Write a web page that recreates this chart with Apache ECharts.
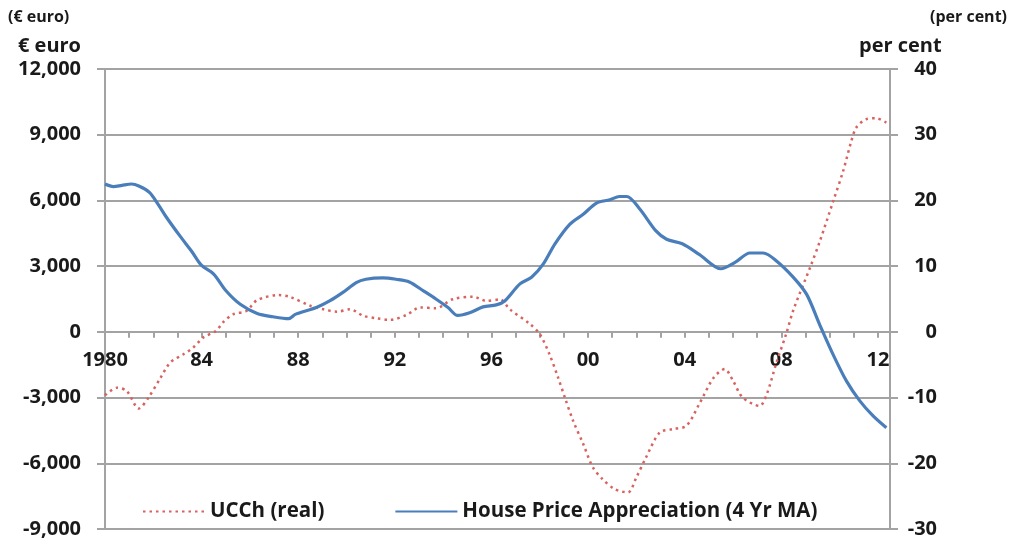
<!DOCTYPE html>
<html>
<head>
<meta charset="utf-8">
<script src="https://cdn.jsdelivr.net/npm/echarts@6/dist/echarts.min.js"></script>
<style>html,body{margin:0;padding:0;background:#fff}#c{width:1012px;height:541px}</style>
</head>
<body>
<div id="c"></div>
<script>
// ---- data ----
const hpaYears = [1980.0,1980.35,1980.7,1981.1,1981.4,1981.85,1982.2,1982.55,1983.1,1983.6,1984.0,1984.5,1985.0,1985.6,1986.3,1986.95,1987.6,1987.9,1988.75,1989.3,1989.85,1990.4,1990.8,1991.5,1992.05,1992.6,1993.2,1993.7,1994.2,1994.6,1995.1,1995.65,1996.2,1996.55,1997.18,1997.66,1998.14,1998.63,1999.25,1999.8,2000.35,2000.9,2001.3,2001.6,2002.14,2002.8,2003.25,2003.9,2004.6,2005.5,2006.1,2006.7,2007.25,2007.8,2008.5,2009.05,2009.6,2010.15,2010.7,2011.25,2011.8,2012.35];
const hpaValues = [22.5,22.1,22.3,22.5,22.2,21.2,19.4,17.4,14.6,12.2,10.1,8.8,6.3,4.2,2.8,2.3,2.0,2.7,3.7,4.7,6.0,7.5,8.0,8.2,8.0,7.6,6.2,5.0,3.7,2.5,2.9,3.8,4.1,4.7,7.3,8.3,10.3,13.4,16.4,17.9,19.6,20.1,20.6,20.6,18.7,15.4,14.1,13.4,11.8,9.6,10.6,12.0,12.0,10.8,8.3,5.7,1.0,-3.5,-7.5,-10.5,-12.8,-14.6];

const ucchYears = [1980.0,1980.5,1980.9,1981.4,1981.8,1982.3,1982.7,1983.25,1983.65,1984.07,1984.6,1984.9,1985.3,1985.85,1986.3,1987.2,1987.65,1988.5,1989.05,1989.6,1990.15,1990.7,1991.25,1991.8,1992.5,1993.04,1993.7,1994.4,1995.25,1995.8,1996.35,1996.76,1997.6,1998.0,1998.4,1998.76,1999.04,1999.38,1999.8,2000.2,2000.6,2001.1,2001.65,2002.0,2002.4,2002.97,2003.5,2004.07,2004.6,2005.2,2005.66,2006.0,2006.4,2007.1,2007.4,2007.8,2008.2,2008.5,2009.2,2009.6,2010.15,2010.56,2010.9,2011.1,2011.5,2011.94,2012.35];
const ucchValues = [-2900,-2550,-2700,-3500,-3000,-2100,-1400,-1020,-720,-260,50,450,800,950,1450,1680,1600,1190,1030,920,1030,730,620,550,780,1110,1080,1490,1600,1410,1480,1030,350,-100,-1020,-2090,-3000,-4060,-5120,-6190,-6720,-7180,-7330,-6640,-5730,-4590,-4440,-4290,-3300,-2090,-1700,-2230,-3000,-3380,-2840,-1400,-100,1000,2960,4150,5970,7340,8710,9320,9700,9750,9550];

const seriesNames = ['UCCh (real)', 'House Price Appreciation (4 Yr MA)'];
const leftTicks = {min: -9000, max: 12000, interval: 3000};
const rightTicks = {min: -30, max: 40, interval: 10};
const xRange = {min: 1980, max: 2012.5, labelEvery: 4};

// ---- chart ----
const FONT = '"Open Sans"';
const GRAY = '#a3a3a3';
const TXT = '#1a1a1a';
const RED = '#d8625e';
const BLUE = '#4a7ebb';
const GRID = {left: 105, right: 122, top: 69, bottom: 12};
const H = 541;
const plotH = H - GRID.top - GRID.bottom;
// move the x axis up from the grid bottom to the left axis' zero line
const zeroOffset = -plotH * (0 - leftTicks.min) / (leftTicks.max - leftTicks.min);

const chart = echarts.init(document.getElementById('c'), null, {renderer: 'canvas'});
const pair = (xs, ys) => xs.map((x, i) => [x, ys[i]]);
const lblFont = {fontFamily: FONT, fontWeight: 'bold', fontSize: 20, color: TXT};

chart.setOption({
  animation: false,
  backgroundColor: '#fff',
  grid: Object.assign({containLabel: false, outerBoundsMode: 'none'}, GRID),
  legend: {
    left: 137, top: 496,
    itemWidth: 62, itemHeight: 14, itemGap: 70,
    itemStyle: {opacity: 0},
    textStyle: {fontFamily: FONT, fontWeight: 'bold', fontSize: 20.5, color: TXT},
    data: seriesNames
  },
  graphic: [
    {type: 'text', left: 8, top: 9, style: {text: '(€ euro)', font: 'bold 16px ' + FONT, fill: TXT}},
    {type: 'text', right: 5, top: 9, style: {text: '(per cent)', font: 'bold 16px ' + FONT, fill: TXT}},
    {type: 'text', right: 1012 - 81, top: 36, style: {text: '€ euro', font: 'bold 20px ' + FONT, fill: TXT, align: 'right'}},
    {type: 'text', left: 859, top: 36, style: {text: 'per cent', font: 'bold 20px ' + FONT, fill: TXT}}
  ],
  xAxis: {
    type: 'value', position: 'bottom', offset: zeroOffset,
    min: xRange.min, max: xRange.max, interval: 1,
    axisLine: {onZero: false, lineStyle: {color: GRAY, width: 2}},
    axisTick: {show: true, inside: false, length: 6, lineStyle: {color: GRAY, width: 2}},
    splitLine: {show: false},
    axisLabel: Object.assign({
      margin: 18,
      showMaxLabel: false,
      formatter: v => {
        if (Math.abs(v - Math.round(v)) > 1e-6) return '';
        v = Math.round(v);
        if ((v - xRange.min) % xRange.labelEvery !== 0) return '';
        if (v === xRange.min) return String(v);
        return String(v % 100).padStart(2, '0');
      }
    }, lblFont)
  },
  yAxis: [
    {
      type: 'value', position: 'left',
      min: leftTicks.min, max: leftTicks.max, interval: leftTicks.interval,
      axisLine: {show: true, lineStyle: {color: GRAY, width: 2}},
      axisTick: {show: true, inside: false, length: 8, lineStyle: {color: GRAY, width: 2}},
      splitLine: {show: true, lineStyle: {color: GRAY, width: 2}},
      axisLabel: Object.assign({
        margin: 24,
        formatter: v => v.toLocaleString('en-US')
      }, lblFont)
    },
    {
      type: 'value', position: 'right',
      min: rightTicks.min, max: rightTicks.max, interval: rightTicks.interval,
      axisLine: {show: true, lineStyle: {color: GRAY, width: 2}},
      axisTick: {show: true, inside: false, length: 8, lineStyle: {color: GRAY, width: 2}},
      splitLine: {show: false},
      axisLabel: Object.assign({margin: 47, align: 'right'}, lblFont)
    }
  ],
  series: [
    {
      name: seriesNames[0], type: 'line', yAxisIndex: 0,
      data: pair(ucchYears, ucchValues),
      smooth: 0.3, symbol: 'none',
      lineStyle: {color: RED, width: 2.5, type: [2.5, 4]},
      itemStyle: {color: RED}
    },
    {
      name: seriesNames[1], type: 'line', yAxisIndex: 1,
      data: pair(hpaYears, hpaValues),
      smooth: 0.3, symbol: 'none',
      lineStyle: {color: BLUE, width: 3.2},
      itemStyle: {color: BLUE}
    }
  ]
});
</script>
</body>
</html>
